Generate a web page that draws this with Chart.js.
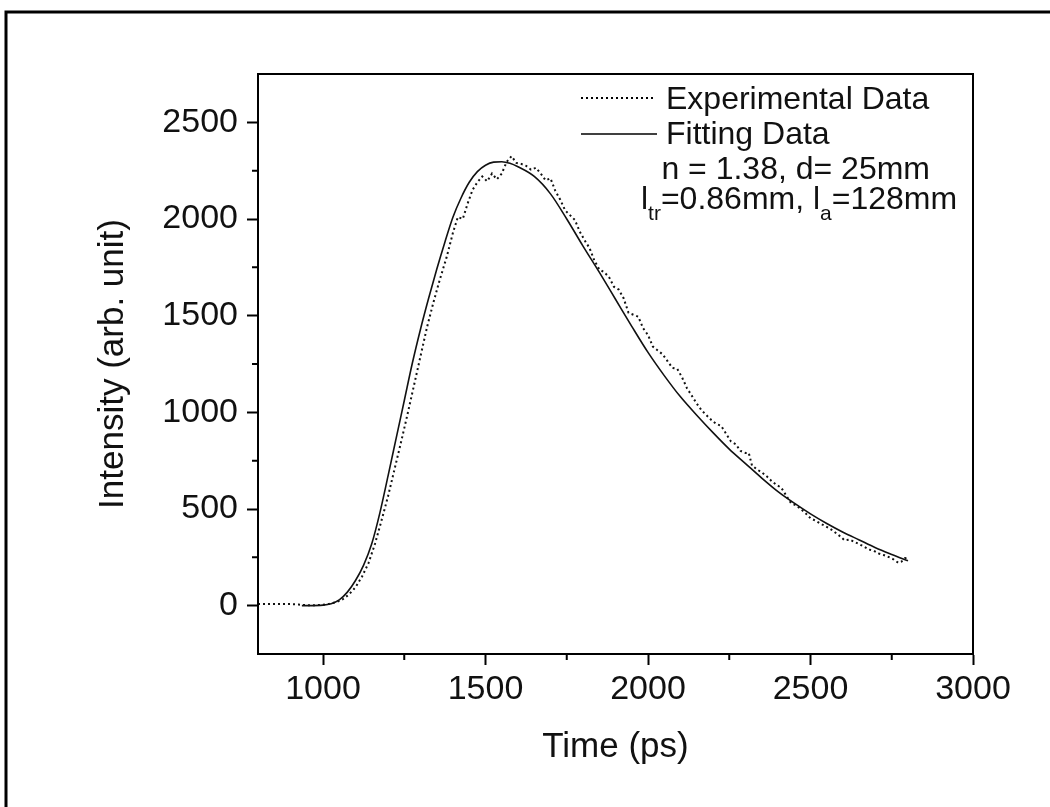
<!DOCTYPE html>
<html>
<head>
<meta charset="utf-8">
<script src="https://cdn.jsdelivr.net/npm/chart.js@4.4.1/dist/chart.umd.min.js"></script>
<style>
html, body { margin: 0; padding: 0; background: #fff; }
#wrap { width: 1050px; height: 807px; }
</style>
</head>
<body>
<div id="wrap"><canvas id="chart" width="1050" height="807"></canvas></div>
<script>
// tick values
const xTicks = [1000, 1500, 2000, 2500, 3000];
const xMinorTicks = [1250, 1750, 2250, 2750];
const yTicks = [0, 500, 1000, 1500, 2000, 2500];
const yMinorTicks = [250, 750, 1250, 1750, 2250];

// experimental data (dotted)
const expTime = [800, 825, 850, 875, 900, 925, 950, 975, 1000, 1020, 1040, 1060, 1080, 1100, 1120, 1140, 1160, 1180, 1200, 1220,
  1240, 1260, 1280, 1300, 1320, 1340, 1360, 1380, 1400, 1415, 1430, 1445, 1460, 1475, 1490, 1505, 1520, 1535, 1550, 1565,
  1580, 1595, 1610, 1625, 1640, 1655, 1670, 1685, 1700, 1715, 1730, 1745, 1760, 1775, 1790, 1805, 1820, 1835, 1850, 1865,
  1880, 1895, 1910, 1925, 1940, 1955, 1970, 1985, 2000, 2015, 2030, 2045, 2060, 2075, 2090, 2105, 2120, 2135, 2150, 2165,
  2180, 2195, 2210, 2225, 2240, 2255, 2270, 2285, 2300, 2310, 2320, 2335, 2350, 2365, 2380, 2395, 2410, 2425, 2440, 2455,
  2470, 2485, 2500, 2515, 2530, 2545, 2560, 2575, 2590, 2605, 2620, 2635, 2650, 2665, 2680, 2695, 2710, 2725, 2740, 2755,
  2770, 2780, 2790, 2800];
const expIntensity = [8, 8, 8, 8, 8, 6, 2, 2, 5, 10, 18, 32, 58, 95, 150, 220, 320, 440, 565, 705,
  845, 990, 1140, 1290, 1440, 1570, 1690, 1800, 1930, 2010, 2000, 2080, 2150, 2190, 2220, 2195, 2235, 2205, 2235, 2295,
  2325, 2290, 2285, 2275, 2255, 2265, 2235, 2200, 2210, 2145, 2100, 2045, 2020, 1995, 1935, 1890, 1850, 1785, 1740, 1725,
  1700, 1650, 1635, 1590, 1515, 1505, 1495, 1435, 1400, 1340, 1320, 1300, 1265, 1230, 1225, 1180, 1125, 1085, 1045, 1010,
  985, 960, 940, 930, 890, 850, 835, 800, 790, 790, 725, 705, 690, 670, 645, 625, 610, 570, 530, 520,
  500, 478, 452, 440, 425, 412, 398, 380, 360, 338, 342, 330, 318, 305, 290, 284, 270, 262, 252, 240,
  222, 228, 245, 248];

// fitting data (solid)
const fitTime = [935, 1000, 1025, 1050, 1075, 1100, 1125, 1150, 1175, 1200, 1225, 1250, 1275, 1300, 1325, 1350, 1375, 1400,
  1425, 1450, 1475, 1500, 1525, 1550, 1575, 1600, 1650, 1700, 1750, 1800, 1850, 1900, 1950, 2000, 2050, 2100, 2150, 2200,
  2250, 2300, 2350, 2400, 2450, 2500, 2550, 2600, 2650, 2700, 2750, 2800];
const fitIntensity = [0, 3, 10, 30, 70, 130, 210, 320, 480, 670, 865, 1060, 1255, 1430, 1590, 1740, 1880, 2010,
  2110, 2190, 2245, 2278, 2294, 2296, 2288, 2270, 2220, 2130, 2000, 1860, 1725, 1585, 1445, 1310, 1190, 1080, 985, 895,
  810, 735, 660, 590, 530, 475, 425, 380, 340, 300, 265, 232];

const FONT = "'Liberation Sans', Arial, sans-serif";

const toPoints = (xs, ys) => xs.map((v, i) => ({ x: v, y: ys[i] }));

// axes box, minor ticks, outer frame, legend and notes
const decor = {
  id: 'decor',
  afterDraw(chart) {
    const { ctx, chartArea: a, scales: { x, y } } = chart;
    ctx.save();
    ctx.strokeStyle = '#000';
    ctx.lineWidth = 2;
    ctx.strokeRect(a.left, a.top, a.right - a.left, a.bottom - a.top);

    ctx.beginPath();
    xMinorTicks.forEach(v => {
      const px = x.getPixelForValue(v);
      ctx.moveTo(px, a.bottom);
      ctx.lineTo(px, a.bottom + 6);
    });
    yMinorTicks.forEach(v => {
      const py = y.getPixelForValue(v);
      ctx.moveTo(a.left, py);
      ctx.lineTo(a.left - 6, py);
    });
    ctx.stroke();

    // outer frame (top and left edges visible)
    ctx.lineWidth = 3;
    ctx.beginPath();
    ctx.moveTo(1050, 12);
    ctx.lineTo(6, 12);
    ctx.lineTo(6, 807);
    ctx.stroke();

    // legend samples
    ctx.lineWidth = 2;
    ctx.setLineDash([2, 3]);
    ctx.beginPath();
    ctx.moveTo(581, 98);
    ctx.lineTo(654, 98);
    ctx.stroke();
    ctx.setLineDash([]);
    ctx.lineWidth = 1.5;
    ctx.beginPath();
    ctx.moveTo(581, 134);
    ctx.lineTo(657, 134);
    ctx.stroke();

    ctx.fillStyle = '#111';
    ctx.textBaseline = 'alphabetic';
    ctx.textAlign = 'left';
    ctx.font = '32px ' + FONT;
    ctx.fillText('Experimental Data', 666, 109);
    ctx.fillText('Fitting Data', 666, 144);
    ctx.textAlign = 'right';
    ctx.fillText('n = 1.38, d= 25mm', 930, 179);

    // l_tr=0.86mm, l_a=128mm
    ctx.textAlign = 'left';
    const parts = [['l', 0], ['tr', 1], ['=0.86mm, l', 0], ['a', 1], ['=128mm', 0]];
    let cx = 641;
    parts.forEach(([t, sub]) => {
      ctx.font = (sub ? '21px ' : '32px ') + FONT;
      ctx.fillText(t, cx, sub ? 220 : 209);
      cx += ctx.measureText(t).width;
    });
    ctx.restore();
  }
};

new Chart(document.getElementById('chart'), {
  type: 'scatter',
  data: {
    datasets: [
      {
        label: 'Experimental Data',
        data: toPoints(expTime, expIntensity),
        showLine: true,
        borderColor: '#111',
        borderWidth: 2,
        borderDash: [2, 3],
        pointRadius: 0,
        tension: 0
      },
      {
        label: 'Fitting Data',
        data: toPoints(fitTime, fitIntensity),
        showLine: true,
        borderColor: '#111',
        borderWidth: 1.6,
        pointRadius: 0,
        cubicInterpolationMode: 'monotone'
      }
    ]
  },
  options: {
    responsive: false,
    animation: false,
    layout: { padding: { left: 92, right: 77, top: 74, bottom: 39 } },
    plugins: {
      legend: { display: false },
      tooltip: { enabled: false }
    },
    scales: {
      x: {
        type: 'linear',
        min: 800,
        max: 3000,
        afterBuildTicks: s => { s.ticks = xTicks.map(v => ({ value: v })); },
        afterFit: s => { s.height = 114; },
        ticks: { color: '#111', font: { family: FONT, size: 34 }, padding: 4, maxRotation: 0, autoSkip: false,
          callback: v => String(v) },
        grid: { drawOnChartArea: false, drawTicks: true, tickLength: 11, tickWidth: 2, tickColor: '#000' },
        border: { display: true, color: '#000', width: 2 },
        title: { display: true, text: 'Time (ps)', color: '#111', font: { family: FONT, size: 35 }, padding: 0 }
      },
      y: {
        type: 'linear',
        min: -250,
        max: 2750,
        afterBuildTicks: s => { s.ticks = yTicks.map(v => ({ value: v })); },
        afterFit: s => { s.width = 166; },
        ticks: { color: '#111', font: { family: FONT, size: 34 }, padding: 9, autoSkip: false,
          callback: v => String(v) },
        grid: { drawOnChartArea: false, drawTicks: true, tickLength: 11, tickWidth: 2, tickColor: '#000' },
        border: { display: true, color: '#000', width: 2 },
        title: { display: true, text: 'Intensity (arb. unit)', color: '#111', font: { family: FONT, size: 35 }, padding: 0 }
      }
    }
  },
  plugins: [decor]
});
</script>
</body>
</html>
